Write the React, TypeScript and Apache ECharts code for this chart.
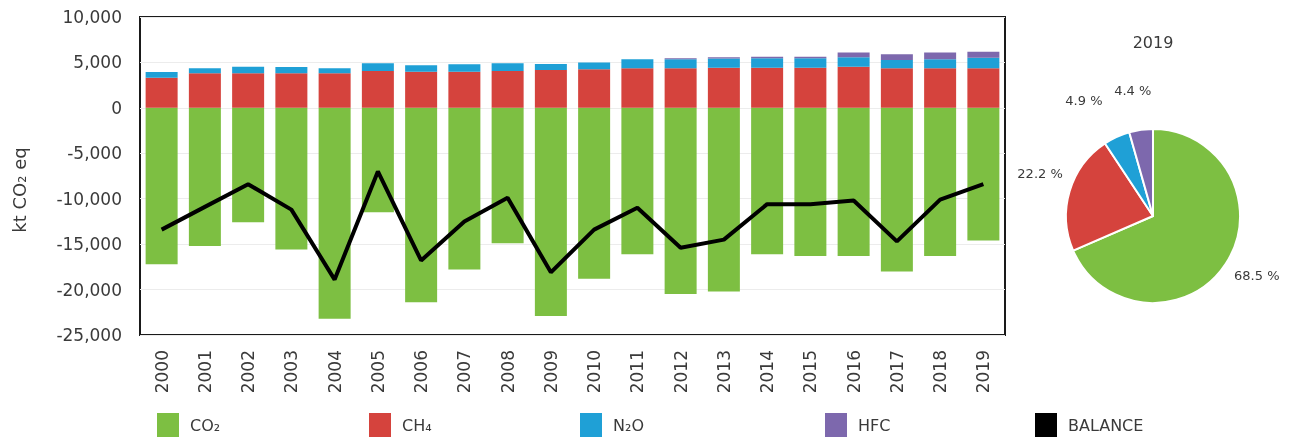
import React, { useEffect, useRef } from "react";
import * as echarts from "echarts";

const years = ["2000","2001","2002","2003","2004","2005","2006","2007","2008","2009","2010","2011","2012","2013","2014","2015","2016","2017","2018","2019"];
const co2 = [-17200,-15200,-12600,-15600,-23200,-11500,-21400,-17800,-14900,-22900,-18800,-16100,-20500,-20200,-16100,-16300,-16300,-18000,-16300,-14600];
const ch4 = [3300,3800,3800,3800,3800,4050,3980,3980,4050,4170,4240,4350,4350,4420,4420,4420,4530,4350,4350,4350];
const n2o = [650,550,730,700,550,850,720,820,850,650,760,990,1000,1000,1050,1050,1050,910,990,1170];
const hfc = [0,0,0,0,0,0,0,0,0,0,0,0,100,140,160,160,520,630,760,650];
const balance = [-13400,-10900,-8400,-11200,-18900,-7000,-16800,-12500,-9900,-18100,-13400,-11000,-15400,-14500,-10600,-10600,-10200,-14700,-10100,-8400];
const pieNames = ["CO₂","CH₄","N₂O","HFC"];
const pieValues = [68.5,22.2,4.9,4.4];
const yTicks = { min: -25000, max: 10000, interval: 5000 };
const legendNames = ["CO₂","CH₄","N₂O","HFC","BALANCE"];

const C = { co2: "#7dbf42", ch4: "#d5433d", n2o: "#1fa0d6", hfc: "#7d68ad", bal: "#000000" };
const FONT = "DejaVu Sans";
const TXT = "#3a3a3a";

export default function App() {
  const ref = useRef<HTMLDivElement>(null);
  useEffect(() => {
    if (!ref.current) return;
    const chart = echarts.init(ref.current, undefined, { renderer: "svg" });
    const legendPos = [157, 369, 580, 825, 1035];
    const pieLineLen = [4, 4, 34, 34];
    const labelShift = [[0, 10], [2, -17], [5, -6], [20, -6]];
    chart.setOption({
      animation: false,
      textStyle: { fontFamily: FONT, color: TXT },
      grid: { left: 140, right: 289, top: 17, bottom: 105, show: true, borderColor: "#1a1a1a", borderWidth: 2, backgroundColor: "transparent" },
      legend: legendNames.map((n, i) => ({
        data: [{ name: n, icon: "rect" }],
        left: legendPos[i],
        top: 413,
        padding: 0,
        itemWidth: 22,
        itemHeight: 24,
        textStyle: { fontFamily: FONT, fontSize: 16, color: TXT, padding: [0, 0, 0, 6] },
        selectedMode: false,
      })),
      xAxis: {
        type: "category",
        data: years,
        axisLine: { show: false },
        axisTick: { show: false },
        axisLabel: { rotate: 90, fontSize: 17, color: TXT, margin: 15, fontFamily: FONT },
      },
      yAxis: {
        type: "value",
        min: yTicks.min,
        max: yTicks.max,
        interval: yTicks.interval,
        name: "kt CO₂ eq",
        nameLocation: "middle",
        nameGap: 112,
        nameTextStyle: { fontSize: 18, color: TXT, fontFamily: FONT, padding: [0, 28, 0, 0] },
        axisLine: { show: false },
        axisTick: { show: false },
        axisLabel: { fontSize: 17, color: TXT, margin: 18, fontFamily: FONT, formatter: (v: number) => v.toLocaleString("en-US") },
        splitLine: { lineStyle: { color: "#ececec", width: 1 } },
      },
      graphic: [
        { type: "text", x: 1153, y: 34, style: { text: "2019", fontSize: 16, fontFamily: FONT, fill: TXT, textAlign: "center" } },
      ],
      series: [
        { name: "CO₂", type: "bar", stack: "t", data: co2, barWidth: 32, itemStyle: { color: C.co2 } },
        { name: "CH₄", type: "bar", stack: "t", data: ch4, barWidth: 32, itemStyle: { color: C.ch4 } },
        { name: "N₂O", type: "bar", stack: "t", data: n2o, barWidth: 32, itemStyle: { color: C.n2o } },
        { name: "HFC", type: "bar", stack: "t", data: hfc, barWidth: 32, itemStyle: { color: C.hfc } },
        { name: "BALANCE", type: "line", data: balance, symbol: "none", lineStyle: { color: C.bal, width: 4 }, itemStyle: { color: C.bal }, z: 5 },
        {
          type: "pie",
          center: [1153, 216],
          radius: [0, 87],
          startAngle: 90,
          clockwise: true,
          legendHoverLink: false,
          avoidLabelOverlap: false,
          itemStyle: { borderColor: "#ffffff", borderWidth: 2 },
          label: { show: true, position: "outside", overflow: "none", formatter: (p: any) => p.value.toFixed(1) + " %", fontSize: 13, color: TXT, fontFamily: FONT },
          labelLine: { show: false, length: 4, length2: 0 },
          labelLayout: (p: any) => ({ hideOverlap: false, moveOverlap: undefined, dx: labelShift[p.dataIndex][0], dy: labelShift[p.dataIndex][1] }),
          data: pieNames.map((n, i) => ({
            name: n,
            value: pieValues[i],
            itemStyle: { color: [C.co2, C.ch4, C.n2o, C.hfc][i] },
            labelLine: { show: false, length: pieLineLen[i], length2: 0 },
          })),
        },
      ],
    });
    return () => chart.dispose();
  }, []);
  return <div ref={ref} style={{ position: "fixed", left: 0, top: 0, width: 1294, height: 440 }} />;
}
